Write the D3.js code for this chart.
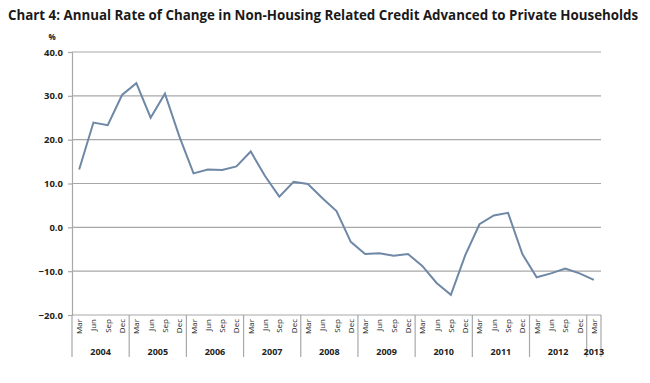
<!DOCTYPE html>
<html>
<head>
<meta charset="utf-8">
<script src="https://cdn.jsdelivr.net/npm/d3@7"></script>
<style>
  body { margin: 0; background: #fff; }
  svg { display: block; }
</style>
</head>
<body>
<svg id="chart" width="650" height="383"></svg>
<script>
const years = ["2004","2005","2006","2007","2008","2009","2010","2011","2012","2013"];
const months = ["Mar","Jun","Sep","Dec"];
const values = [
  13.2, 23.9, 23.3, 30.2,
  32.9, 25.0, 30.5, 20.8,
  12.3, 13.2, 13.1, 13.9,
  17.3, 11.7, 7.0, 10.4,
  9.9, 6.7, 3.7, -3.3,
  -6.1, -5.9, -6.5, -6.1,
  -8.8, -12.7, -15.4, -6.4,
  0.7, 2.7, 3.3, -6.1,
  -11.4, -10.5, -9.4, -10.5,
  -12.0
];
const yTicks = [-20, -10, 0, 10, 20, 30, 40];
const titleText = "Chart 4: Annual Rate of Change in Non-Housing Related Credit Advanced to Private Households";

(function () {
const categories = values.map((v, i) => ({
  key: i,
  month: months[i % 4],
  year: years[Math.floor(i / 4)],
  value: v
}));

const svg = d3.select("#chart");
const mLeft = 72, mRight = 601, mTop = 52, mBottom = 315;

const x = d3.scaleBand().domain(categories.map(d => d.key)).range([mLeft, mRight]);
const y = d3.scaleLinear().domain([-20, 40]).range([mBottom, mTop]);

// Title
const title = svg.append("text")
  .attr("x", 8).attr("y", 20)
  .attr("font-family", "'Open Sans', sans-serif")
  .attr("font-weight", "bold")
  .attr("font-size", 16)
  .attr("fill", "#1a1a1a")
  .text(titleText);
const tw = title.node().getComputedTextLength();
title.attr("font-size", 16 * 631 / tw);

// Gridlines
svg.append("g")
  .selectAll("line")
  .data(yTicks.filter(t => t > -20))
  .join("line")
  .attr("x1", mLeft).attr("x2", mRight)
  .attr("y1", d => y(d)).attr("y2", d => y(d))
  .attr("stroke", "#a8a8a8").attr("stroke-width", 1.2);

// Y axis
const yAxis = d3.axisLeft(y).tickValues(yTicks).tickSize(4).tickPadding(5)
  .tickFormat(d3.format(".1f"));
const gy = svg.append("g").attr("transform", `translate(${mLeft},0)`).call(yAxis);
gy.select(".domain").attr("stroke", "#a8a8a8").attr("stroke-width", 1.2);
gy.selectAll(".tick line").attr("stroke", "#a8a8a8").attr("stroke-width", 1.2);
gy.selectAll(".tick text")
  .attr("font-family", "'Open Sans', sans-serif")
  .attr("font-weight", "bold")
  .attr("font-size", 9.5)
  .attr("fill", "#222");

svg.append("text")
  .attr("x", 52).attr("y", 40)
  .attr("text-anchor", "middle")
  .attr("font-family", "'Open Sans', sans-serif")
  .attr("font-weight", "bold")
  .attr("font-size", 8)
  .attr("fill", "#222")
  .text("%");

// X axis line
svg.append("line")
  .attr("x1", mLeft).attr("x2", mRight)
  .attr("y1", mBottom).attr("y2", mBottom)
  .attr("stroke", "#a8a8a8").attr("stroke-width", 1.2);

// Month labels
svg.append("g")
  .selectAll("text")
  .data(categories)
  .join("text")
  .attr("transform", d => `translate(${x(d.key) + x.bandwidth() / 2 + 3},${mBottom + 4}) rotate(-90)`)
  .attr("text-anchor", "end")
  .attr("font-family", "'Open Sans', sans-serif")
  .attr("font-size", 8)
  .attr("fill", "#222")
  .text(d => d.month);

// Year groups
const yearGroups = years.map(yr => {
  const items = categories.filter(c => c.year === yr);
  const x0 = x(items[0].key);
  const x1 = x(items[items.length - 1].key) + x.bandwidth();
  return { year: yr, x0, x1 };
});

const sepXs = [mLeft].concat(yearGroups.map(g => g.x1));
svg.append("g")
  .selectAll("line")
  .data(sepXs)
  .join("line")
  .attr("x1", d => d).attr("x2", d => d)
  .attr("y1", mBottom).attr("y2", 357)
  .attr("stroke", "#a8a8a8").attr("stroke-width", 1.2);

svg.append("g")
  .selectAll("text")
  .data(yearGroups)
  .join("text")
  .attr("x", d => (d.x0 + d.x1) / 2)
  .attr("y", 355)
  .attr("text-anchor", "middle")
  .attr("font-family", "'Open Sans', sans-serif")
  .attr("font-weight", "bold")
  .attr("font-size", 9)
  .attr("fill", "#222")
  .text(d => d.year);

// Line
const line = d3.line()
  .x(d => x(d.key) + x.bandwidth() / 2)
  .y(d => y(d.value));
svg.append("path")
  .datum(categories)
  .attr("d", line)
  .attr("fill", "none")
  .attr("stroke", "#6f88a6")
  .attr("stroke-width", 2)
  .attr("stroke-linejoin", "miter");
})();
</script>
</body>
</html>
